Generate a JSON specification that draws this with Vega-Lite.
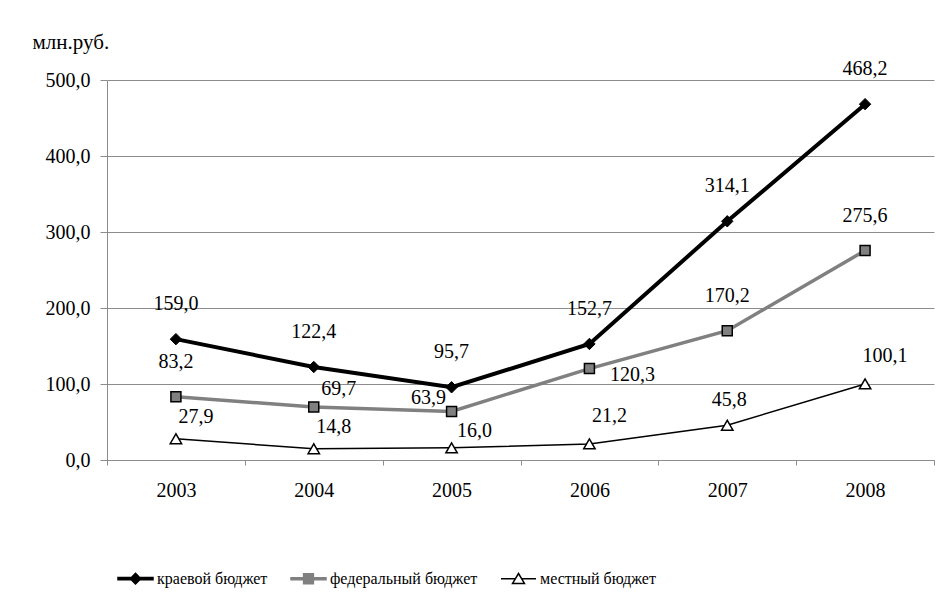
{
  "$schema": "https://vega.github.io/schema/vega-lite/v6.json",
  "autosize": {"type": "none"},
  "padding": {"left": 107, "top": 80, "right": 17, "bottom": 150},
  "width": 827,
  "height": 380,
  "background": "white",
  "config": {
    "view": {"stroke": null},
    "font": "Liberation Serif",
    "locale": {"number": {"decimal": ",", "thousands": "\u00a0", "grouping": [3], "currency": ["", " руб."]}},
    "axis": {"labelFont": "Liberation Serif", "titleFont": "Liberation Serif", "labelColor": "black", "titleColor": "black", "domainColor": "#8c8c8c", "tickColor": "#8c8c8c", "gridColor": "#8c8c8c"},
    "legend": {"labelFont": "Liberation Serif", "labelLimit": 300},
    "text": {"font": "Liberation Serif"}
  },
  "data": {"values": [
    {"year": "2003", "series": "краевой бюджет", "value": 159.0},
    {"year": "2004", "series": "краевой бюджет", "value": 122.4},
    {"year": "2005", "series": "краевой бюджет", "value": 95.7},
    {"year": "2006", "series": "краевой бюджет", "value": 152.7},
    {"year": "2007", "series": "краевой бюджет", "value": 314.1},
    {"year": "2008", "series": "краевой бюджет", "value": 468.2},
    {"year": "2003", "series": "федеральный бюджет", "value": 83.2},
    {"year": "2004", "series": "федеральный бюджет", "value": 69.7},
    {"year": "2005", "series": "федеральный бюджет", "value": 63.9},
    {"year": "2006", "series": "федеральный бюджет", "value": 120.3},
    {"year": "2007", "series": "федеральный бюджет", "value": 170.2},
    {"year": "2008", "series": "федеральный бюджет", "value": 275.6},
    {"year": "2003", "series": "местный бюджет", "value": 27.9},
    {"year": "2004", "series": "местный бюджет", "value": 14.8},
    {"year": "2005", "series": "местный бюджет", "value": 16.0},
    {"year": "2006", "series": "местный бюджет", "value": 21.2},
    {"year": "2007", "series": "местный бюджет", "value": 45.8},
    {"year": "2008", "series": "местный бюджет", "value": 100.1}
  ]},
  "encoding": {
    "x": {"field": "year", "type": "nominal", "sort": null,
      "scale": {"type": "band", "paddingInner": 0, "paddingOuter": 0},
      "axis": {"title": null, "labelAngle": 0, "tickBand": "extent", "tickSize": 5, "labelPadding": 15, "labelFontSize": 20, "grid": false}},
    "y": {"field": "value", "type": "quantitative",
      "scale": {"domain": [0, 500], "nice": false, "zero": true},
      "axis": {"title": "млн.руб.", "titleAngle": 0, "titleAlign": "left", "titleBaseline": "middle", "titleX": -75, "titleY": -38, "titleFontSize": 21, "titleFontWeight": "normal", "values": [0, 100, 200, 300, 400, 500], "format": ".1f", "tickSize": 7, "labelPadding": 10, "labelFontSize": 20, "grid": true}}
  },
  "layer": [
    {"transform": [{"filter": "datum.series == 'местный бюджет'"}], "mark": {"type": "line", "color": "black", "strokeWidth": 1.5}},
    {"transform": [{"filter": "datum.series == 'федеральный бюджет'"}], "mark": {"type": "line", "color": "#808080", "strokeWidth": 3.5}},
    {"transform": [{"filter": "datum.series == 'краевой бюджет'"}], "mark": {"type": "line", "color": "black", "strokeWidth": 4}},
    {"transform": [{"filter": "datum.series == 'местный бюджет'"}], "mark": {"type": "point", "shape": "triangle-up", "size": 130, "filled": true, "fill": "white", "stroke": "black", "strokeWidth": 1.5, "opacity": 1}},
    {"transform": [{"filter": "datum.series == 'федеральный бюджет'"}], "mark": {"type": "point", "shape": "square", "size": 100, "filled": true, "fill": "#808080", "stroke": "black", "strokeWidth": 1.5, "opacity": 1}},
    {"transform": [{"filter": "datum.series == 'краевой бюджет'"}], "mark": {"type": "point", "shape": "diamond", "size": 130, "filled": true, "fill": "black", "stroke": "black", "strokeWidth": 1, "opacity": 1}},
    {"transform": [{"filter": "datum.series == 'краевой бюджет' || (datum.series == 'федеральный бюджет' && indexof(['2003','2007','2008'], datum.year) >= 0)"}],
      "mark": {"type": "text", "font": "Liberation Serif", "fontSize": 20, "color": "black", "baseline": "middle", "align": "center", "dx": 0, "dy": -35},
      "encoding": {"text": {"field": "value", "type": "quantitative", "format": ".1f"}}},
    {"transform": [{"filter": "datum.series == 'федеральный бюджет' && datum.year == '2004'"}],
      "mark": {"type": "text", "font": "Liberation Serif", "fontSize": 20, "color": "black", "baseline": "middle", "align": "center", "dx": 25, "dy": -18},
      "encoding": {"text": {"field": "value", "type": "quantitative", "format": ".1f"}}},
    {"transform": [{"filter": "datum.series == 'федеральный бюджет' && datum.year == '2005'"}],
      "mark": {"type": "text", "font": "Liberation Serif", "fontSize": 20, "color": "black", "baseline": "middle", "align": "center", "dx": -23, "dy": -13},
      "encoding": {"text": {"field": "value", "type": "quantitative", "format": ".1f"}}},
    {"transform": [{"filter": "datum.series == 'федеральный бюджет' && datum.year == '2006'"}],
      "mark": {"type": "text", "font": "Liberation Serif", "fontSize": 20, "color": "black", "baseline": "middle", "align": "center", "dx": 43, "dy": 6},
      "encoding": {"text": {"field": "value", "type": "quantitative", "format": ".1f"}}},
    {"transform": [{"filter": "datum.series == 'местный бюджет' && (datum.year == '2003' || datum.year == '2004')"}],
      "mark": {"type": "text", "font": "Liberation Serif", "fontSize": 20, "color": "black", "baseline": "middle", "align": "center", "dx": 20, "dy": -22},
      "encoding": {"text": {"field": "value", "type": "quantitative", "format": ".1f"}}},
    {"transform": [{"filter": "datum.series == 'местный бюджет' && datum.year == '2005'"}],
      "mark": {"type": "text", "font": "Liberation Serif", "fontSize": 20, "color": "black", "baseline": "middle", "align": "center", "dx": 23, "dy": -17},
      "encoding": {"text": {"field": "value", "type": "quantitative", "format": ".1f"}}},
    {"transform": [{"filter": "datum.series == 'местный бюджет' && (datum.year == '2006' || datum.year == '2008')"}],
      "mark": {"type": "text", "font": "Liberation Serif", "fontSize": 20, "color": "black", "baseline": "middle", "align": "center", "dx": 20, "dy": -28},
      "encoding": {"text": {"field": "value", "type": "quantitative", "format": ".1f"}}},
    {"transform": [{"filter": "datum.series == 'местный бюджет' && datum.year == '2007'"}],
      "mark": {"type": "text", "font": "Liberation Serif", "fontSize": 20, "color": "black", "baseline": "middle", "align": "center", "dx": 2, "dy": -25},
      "encoding": {"text": {"field": "value", "type": "quantitative", "format": ".1f"}}},
    {"transform": [{"filter": "false"}],
      "mark": {"type": "point", "size": 1225, "strokeWidth": 1.5, "opacity": 1, "filled": true},
      "encoding": {
        "shape": {"field": "series", "type": "nominal",
          "scale": {"domain": ["краевой бюджет", "федеральный бюджет", "местный бюджет"],
            "range": ["M-1,-0.07L1,-0.07L1,0.07L-1,0.07Z M0,-0.3L0.3,0L0,0.3L-0.3,0Z",
                      "M-1,-0.06L1,-0.06L1,0.06L-1,0.06Z M-0.28,-0.28L0.28,-0.28L0.28,0.28L-0.28,0.28Z",
                      "M-1,0L-0.2,0 M0.2,0L1,0 M0,-0.3L0.34,0.27L-0.34,0.27Z"]},
          "legend": {"orient": "none", "legendX": 10, "legendY": 480, "direction": "horizontal", "title": null, "labelFont": "Liberation Serif", "labelFontSize": 16, "labelColor": "black", "labelLimit": 300, "symbolSize": 1225, "symbolStrokeWidth": 1.5, "columnPadding": 20, "labelOffset": 3}},
        "fill": {"field": "series", "type": "nominal",
          "scale": {"domain": ["краевой бюджет", "федеральный бюджет", "местный бюджет"], "range": ["black", "#808080", "white"]},
          "legend": {"orient": "none", "legendX": 10, "legendY": 480, "direction": "horizontal", "title": null, "labelFont": "Liberation Serif", "labelFontSize": 16, "labelColor": "black", "labelLimit": 300, "symbolSize": 1225, "symbolStrokeWidth": 1.5, "columnPadding": 20, "labelOffset": 3}},
        "stroke": {"field": "series", "type": "nominal",
          "scale": {"domain": ["краевой бюджет", "федеральный бюджет", "местный бюджет"], "range": ["black", "#808080", "black"]},
          "legend": {"orient": "none", "legendX": 10, "legendY": 480, "direction": "horizontal", "title": null, "labelFont": "Liberation Serif", "labelFontSize": 16, "labelColor": "black", "labelLimit": 300, "symbolSize": 1225, "symbolStrokeWidth": 1.5, "columnPadding": 20, "labelOffset": 3}}
      }}
  ]
}
